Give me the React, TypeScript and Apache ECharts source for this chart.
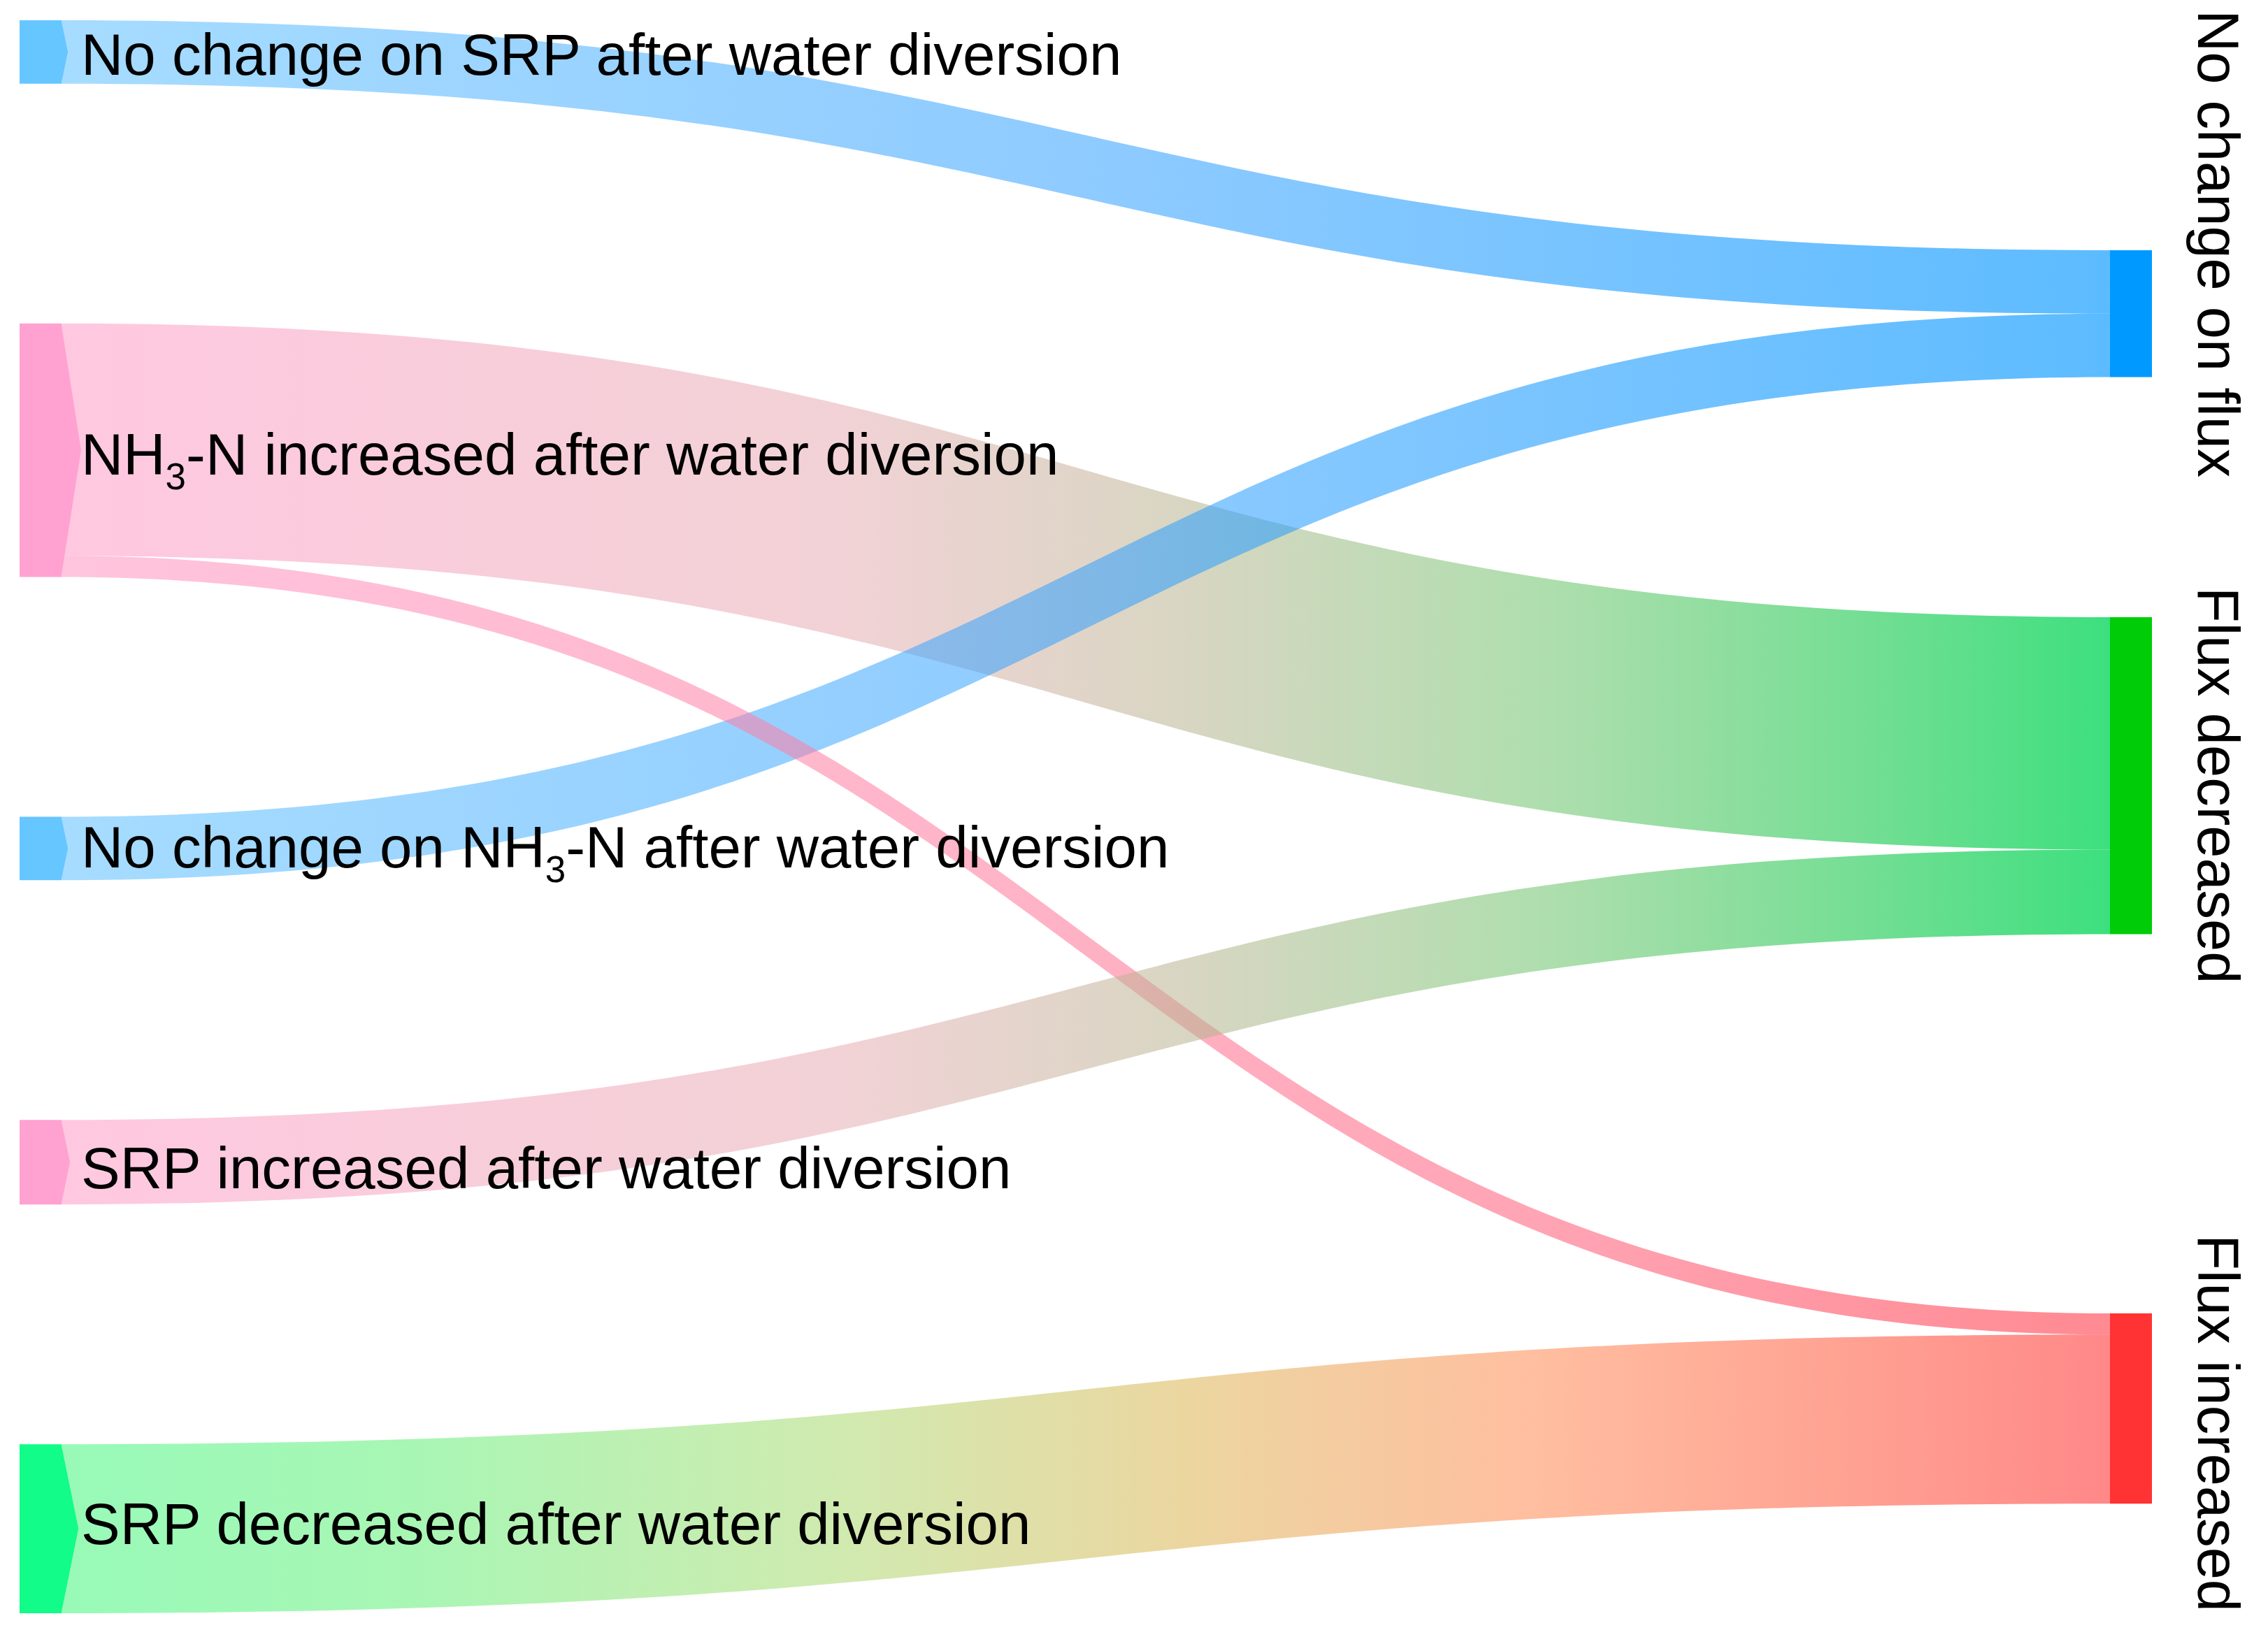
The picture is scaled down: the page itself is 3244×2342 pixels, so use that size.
import React, { useEffect, useRef } from "react";
import * as echarts from "echarts";

// ---------- data ----------
const leftNodes = [
  "No change on SRP after water diversion",
  "NH3-N increased after water diversion",
  "No change on NH3-N after water diversion",
  "SRP increased after water diversion",
  "SRP decreased after water diversion",
];
const rightNodes = ["No change on flux", "Flux decreased", "Flux increased"];

const linkSources = [0, 1, 2, 1, 3, 4]; // index into leftNodes
const linkTargets = [0, 1, 0, 2, 1, 2]; // index into rightNodes
const linkValues = [3, 11, 3, 1, 4, 8];

// ---------- style / layout ----------
const FONT = "'Liberation Sans', Arial, sans-serif";
const leftColors = ["#66c6ff", "#ffa2d1", "#66c6ff", "#ffa2d1", "#11fc88"];
const rightColors = ["#0099ff", "#00cc08", "#ff3333"];
const rightLocalY = [0.1444, 0.3747, 0.8118];
const rightLabelShift = [-100, 14, 21];
const leftLabelShift = [4, 6, -2, 8, -7];

const blueStops: [number, string][] = [
  [0, "#a6dcff"],
  [0.5, "#8ecbff"],
  [1, "#5cbbff"],
];
const pinkGreenStops: [number, string][] = [
  [0, "#ffc8e0"],
  [0.38, "#f2d2d6"],
  [0.55, "#d8d6c2"],
  [0.72, "#b0deae"],
  [1, "#3ce07e"],
];
const pinkRedStops: [number, string][] = [
  [0, "#ffc4de"],
  [0.45, "#ffb4c8"],
  [0.72, "#ffa4b4"],
  [1, "#ff8a92"],
];
const greenRedStops: [number, string][] = [
  [0, "#98fab8"],
  [0.17, "#a8f6b4"],
  [0.38, "#d0eab0"],
  [0.55, "#ecd6a0"],
  [0.72, "#ffbea0"],
  [0.9, "#ff9c90"],
  [1, "#ff8888"],
];
const linkStops = [blueStops, pinkGreenStops, blueStops, pinkRedStops, pinkGreenStops, greenRedStops];

function onWhite(hex: string, base = 0.55): string {
  const r = parseInt(hex.slice(1, 3), 16);
  const g = parseInt(hex.slice(3, 5), 16);
  const b = parseInt(hex.slice(5, 7), 16);
  const need = Math.max((255 - r) / 255, (255 - g) / 255, (255 - b) / 255);
  const a = Math.min(1, Math.max(base, need));
  const f = (c: number) => Math.max(0, Math.round(255 - (255 - c) / a));
  return `rgba(${f(r)},${f(g)},${f(b)},${a.toFixed(3)})`;
}

function gradient(stops: [number, string][]) {
  return {
    type: "linear",
    x: 0,
    y: 0,
    x2: 1,
    y2: 0,
    colorStops: stops.map(([o, c]) => ({ offset: o, color: onWhite(c) })),
  };
}

export default function App() {
  const ref = useRef<HTMLDivElement>(null);

  useEffect(() => {
    document.body.style.margin = "0";
    if (!ref.current) return;
    const chart = echarts.init(ref.current, undefined, { renderer: "svg" });

    const nodes: any[] = [];
    leftNodes.forEach((name, i) => {
      nodes.push({
        name,
        itemStyle: { color: leftColors[i], borderWidth: 0 },
        label: {
          position: "right",
          distance: 28,
          offset: [0, leftLabelShift[i]],
          fontSize: 83.5,
          fontFamily: FONT,
          color: "#000",
          formatter: (p: any) => String(p.name).replace("NH3", "NH{sub|3}"),
          rich: {
            sub: { fontSize: 53, fontFamily: FONT, color: "#000", padding: [63, 0, 0, 0] },
          },
        },
      });
    });
    rightNodes.forEach((name, i) => {
      nodes.push({
        name,
        localY: rightLocalY[i],
        itemStyle: { color: rightColors[i], borderWidth: 0 },
        label: {
          position: "right",
          rotate: -90,
          align: "center",
          verticalAlign: "bottom",
          distance: 53,
          offset: [rightLabelShift[i], 0],
          fontSize: 83,
          fontFamily: FONT,
          color: "#000",
        },
      });
    });

    const links = linkValues.map((v, i) => ({
      source: leftNodes[linkSources[i]],
      target: rightNodes[linkTargets[i]],
      value: v,
      lineStyle: { color: gradient(linkStops[i]), opacity: 1 },
    }));

    chart.setOption({
      animation: false,
      backgroundColor: "#ffffff",
      series: [
        {
          type: "sankey",
          left: 28,
          right: 166,
          top: 29,
          bottom: 34,
          nodeWidth: 60,
          nodeGap: 343,
          layoutIterations: 0,
          nodeAlign: "justify",
          draggable: false,
          emphasis: { disabled: true },
          lineStyle: { curveness: 0.5, opacity: 1 },
          itemStyle: { borderWidth: 0 },
          data: nodes,
          links,
        },
      ],
    });

    // chevron tips on the left nodes, derived from the library's own layout
    try {
      const s = (chart as any).getModel().getSeriesByIndex(0);
      const info = s.layoutInfo;
      const graph = s.getGraph();
      const polys: any[] = [];
      graph.eachNode((node: any) => {
        const name = s.getData().getName(node.dataIndex);
        const li = leftNodes.indexOf(name);
        if (li < 0) return;
        const l = node.getLayout();
        const x0 = info.x + l.x + l.dx;
        const y0 = info.y + l.y;
        const tip = Math.min(0.1 * l.dy, 28);
        polys.push({
          type: "polygon",
          z: 100,
          shape: {
            points: [
              [x0 - 0.5, y0],
              [x0 + tip, y0 + l.dy / 2],
              [x0 - 0.5, y0 + l.dy],
            ],
          },
          style: { fill: leftColors[li] },
        });
      });
      chart.setOption({ graphic: polys });
    } catch (e) {
      // ignore
    }

    return () => chart.dispose();
  }, []);

  return <div ref={ref} style={{ width: 3244, height: 2342 }} />;
}
